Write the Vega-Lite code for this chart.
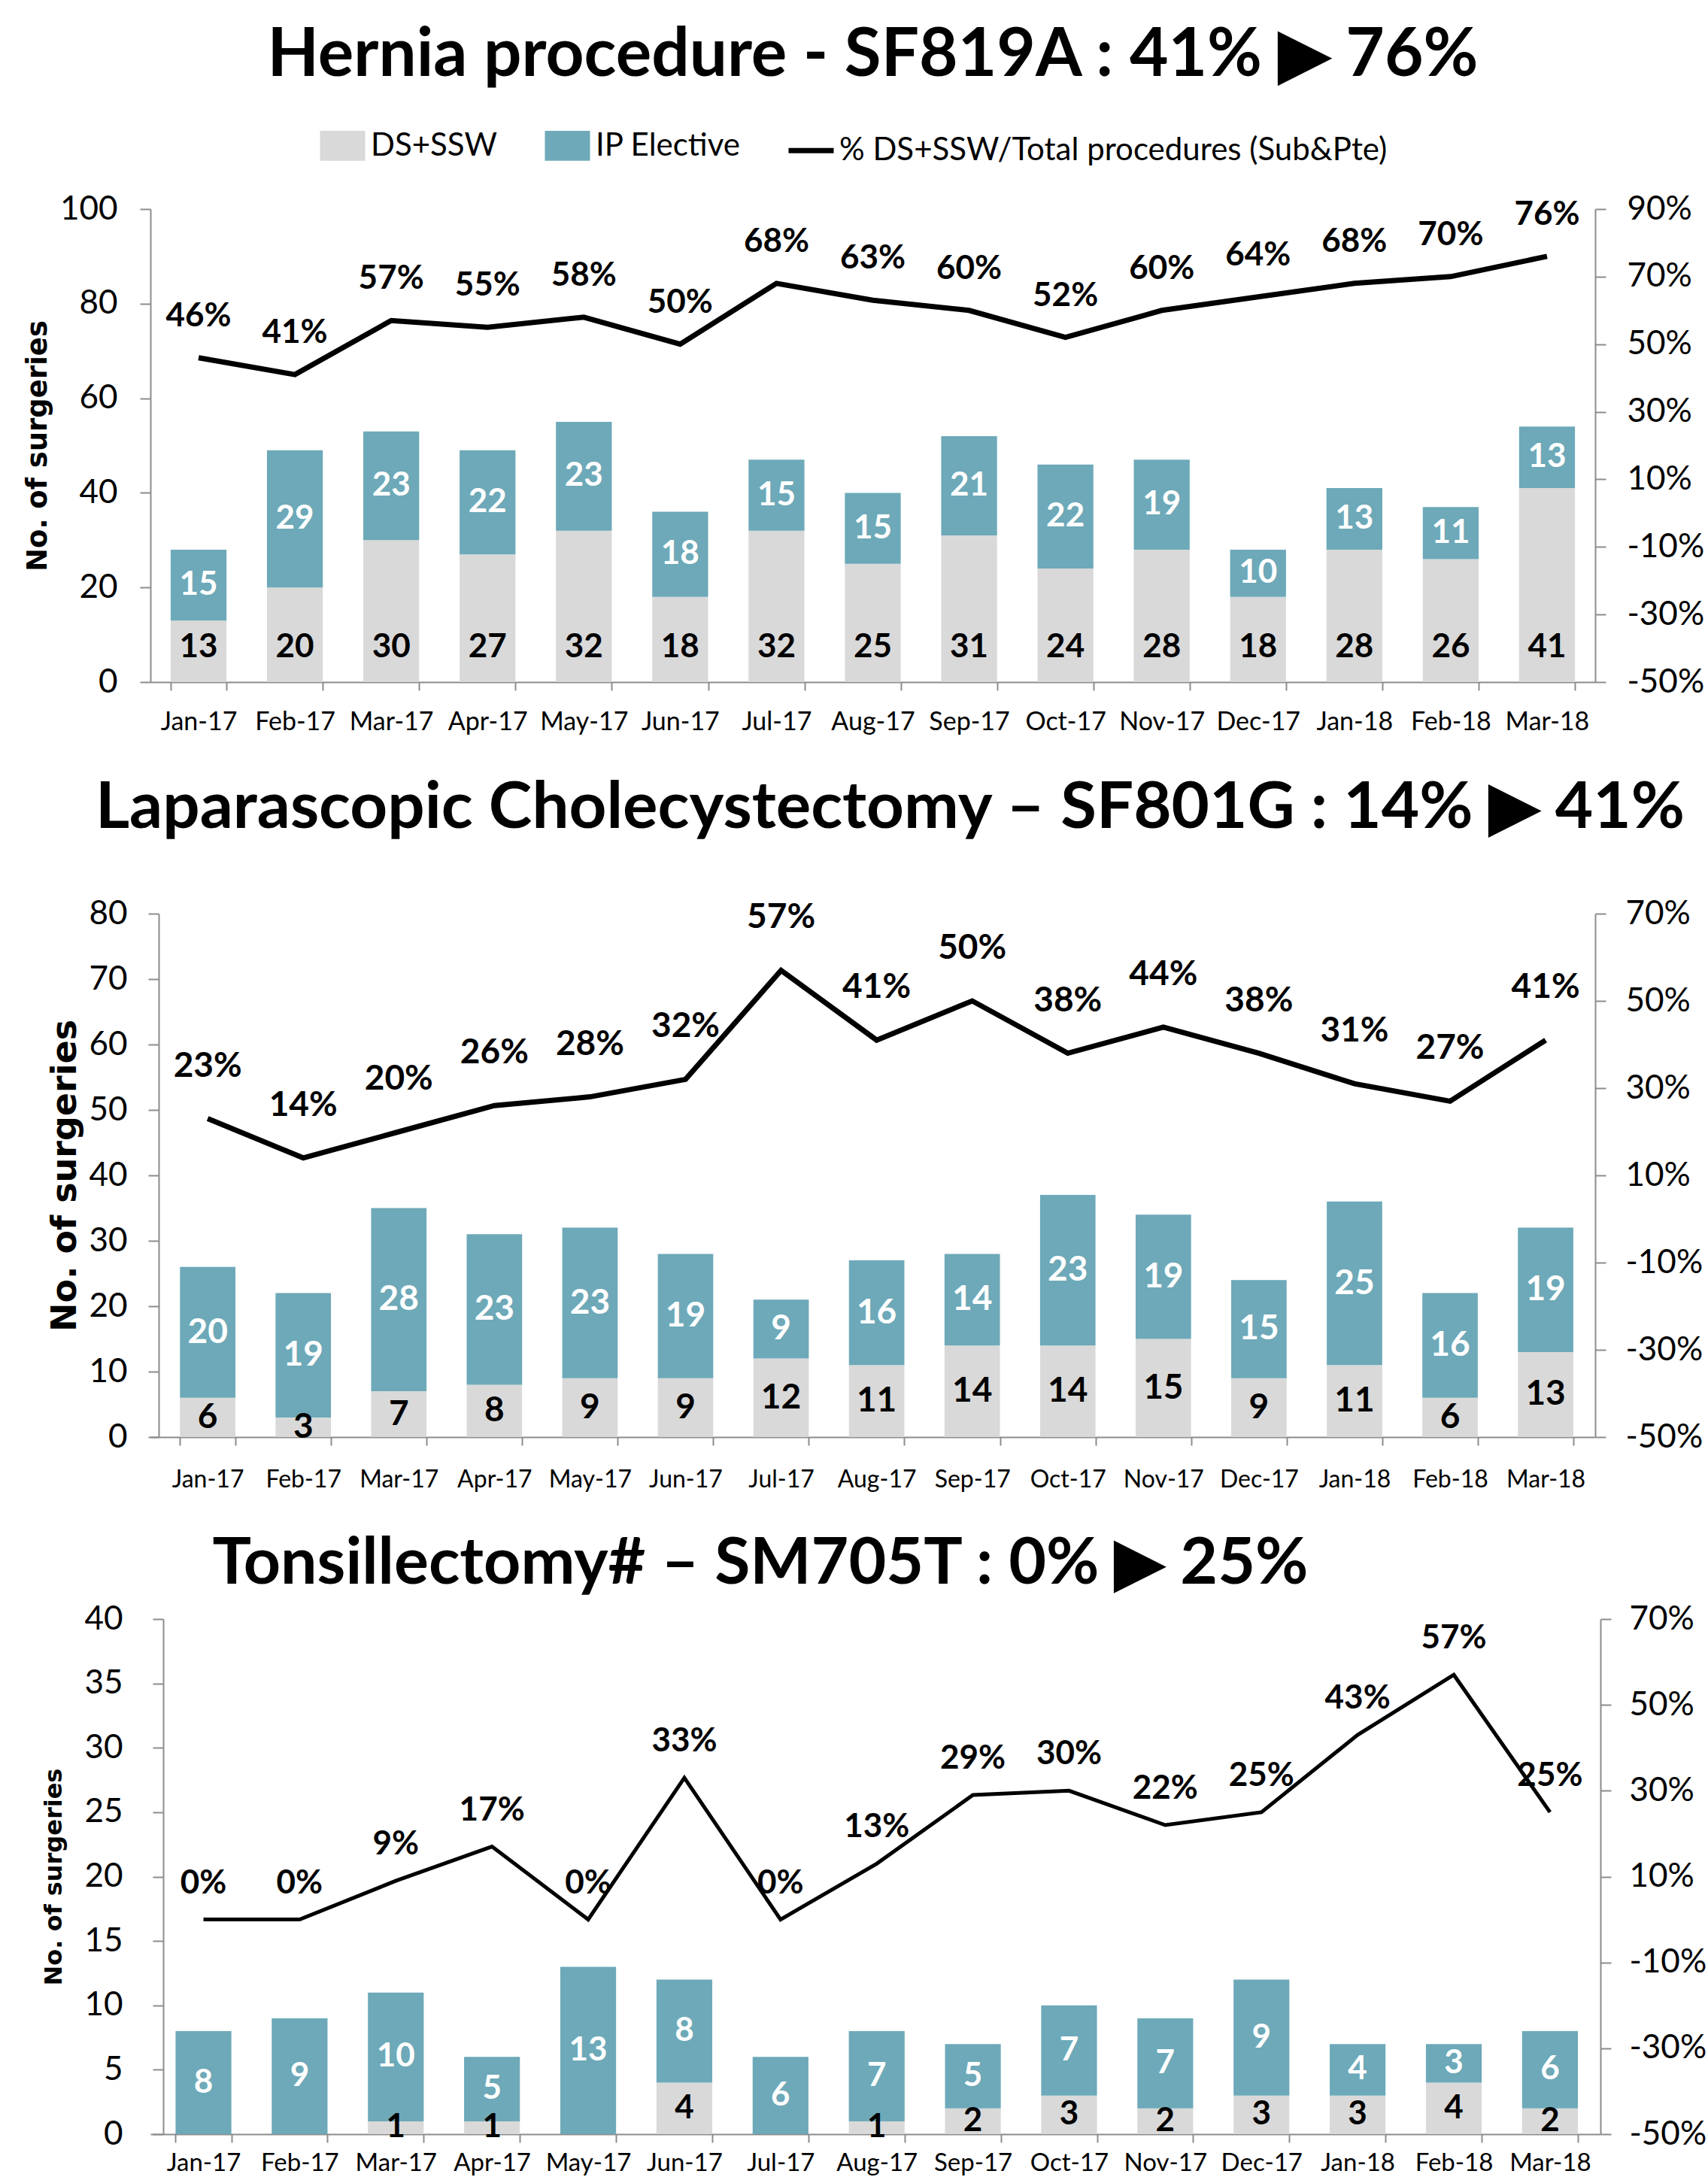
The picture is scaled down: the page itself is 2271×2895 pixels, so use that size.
{
  "$schema": "https://vega.github.io/schema/vega-lite/v6.json",
  "background": "white",
  "padding": {"left": 31, "top": 30, "right": 0, "bottom": 0},
  "config": {
    "view": {"stroke": null},
    "font": "Lato",
    "axis": {"grid": false, "domainColor": "#8c8c8c", "tickColor": "#8c8c8c", "domainWidth": 2, "tickWidth": 2, "labelColor": "black", "labelFont": "Lato", "titleColor": "black"},
    "concat": {"spacing": 54},
    "title": {"font": "Lato", "fontWeight": "bold", "fontSize": 89, "color": "black", "anchor": "middle"}
  },
  "datasets": {
    "hb": [
      {"month": "Jan-17", "series": "DS+SSW", "n": 13}, {"month": "Jan-17", "series": "IP Elective", "n": 15},
      {"month": "Feb-17", "series": "DS+SSW", "n": 20}, {"month": "Feb-17", "series": "IP Elective", "n": 29},
      {"month": "Mar-17", "series": "DS+SSW", "n": 30}, {"month": "Mar-17", "series": "IP Elective", "n": 23},
      {"month": "Apr-17", "series": "DS+SSW", "n": 27}, {"month": "Apr-17", "series": "IP Elective", "n": 22},
      {"month": "May-17", "series": "DS+SSW", "n": 32}, {"month": "May-17", "series": "IP Elective", "n": 23},
      {"month": "Jun-17", "series": "DS+SSW", "n": 18}, {"month": "Jun-17", "series": "IP Elective", "n": 18},
      {"month": "Jul-17", "series": "DS+SSW", "n": 32}, {"month": "Jul-17", "series": "IP Elective", "n": 15},
      {"month": "Aug-17", "series": "DS+SSW", "n": 25}, {"month": "Aug-17", "series": "IP Elective", "n": 15},
      {"month": "Sep-17", "series": "DS+SSW", "n": 31}, {"month": "Sep-17", "series": "IP Elective", "n": 21},
      {"month": "Oct-17", "series": "DS+SSW", "n": 24}, {"month": "Oct-17", "series": "IP Elective", "n": 22},
      {"month": "Nov-17", "series": "DS+SSW", "n": 28}, {"month": "Nov-17", "series": "IP Elective", "n": 19},
      {"month": "Dec-17", "series": "DS+SSW", "n": 18}, {"month": "Dec-17", "series": "IP Elective", "n": 10},
      {"month": "Jan-18", "series": "DS+SSW", "n": 28}, {"month": "Jan-18", "series": "IP Elective", "n": 13},
      {"month": "Feb-18", "series": "DS+SSW", "n": 26}, {"month": "Feb-18", "series": "IP Elective", "n": 11},
      {"month": "Mar-18", "series": "DS+SSW", "n": 41}, {"month": "Mar-18", "series": "IP Elective", "n": 13}
    ],
    "hp": [
      {"month": "Jan-17", "pct": 0.46}, {"month": "Feb-17", "pct": 0.41}, {"month": "Mar-17", "pct": 0.57},
      {"month": "Apr-17", "pct": 0.55}, {"month": "May-17", "pct": 0.58}, {"month": "Jun-17", "pct": 0.50},
      {"month": "Jul-17", "pct": 0.68}, {"month": "Aug-17", "pct": 0.63}, {"month": "Sep-17", "pct": 0.60},
      {"month": "Oct-17", "pct": 0.52}, {"month": "Nov-17", "pct": 0.60}, {"month": "Dec-17", "pct": 0.64},
      {"month": "Jan-18", "pct": 0.68}, {"month": "Feb-18", "pct": 0.70}, {"month": "Mar-18", "pct": 0.76}
    ],
    "lb": [
      {"month": "Jan-17", "series": "DS+SSW", "n": 6}, {"month": "Jan-17", "series": "IP Elective", "n": 20},
      {"month": "Feb-17", "series": "DS+SSW", "n": 3}, {"month": "Feb-17", "series": "IP Elective", "n": 19},
      {"month": "Mar-17", "series": "DS+SSW", "n": 7}, {"month": "Mar-17", "series": "IP Elective", "n": 28},
      {"month": "Apr-17", "series": "DS+SSW", "n": 8}, {"month": "Apr-17", "series": "IP Elective", "n": 23},
      {"month": "May-17", "series": "DS+SSW", "n": 9}, {"month": "May-17", "series": "IP Elective", "n": 23},
      {"month": "Jun-17", "series": "DS+SSW", "n": 9}, {"month": "Jun-17", "series": "IP Elective", "n": 19},
      {"month": "Jul-17", "series": "DS+SSW", "n": 12}, {"month": "Jul-17", "series": "IP Elective", "n": 9},
      {"month": "Aug-17", "series": "DS+SSW", "n": 11}, {"month": "Aug-17", "series": "IP Elective", "n": 16},
      {"month": "Sep-17", "series": "DS+SSW", "n": 14}, {"month": "Sep-17", "series": "IP Elective", "n": 14},
      {"month": "Oct-17", "series": "DS+SSW", "n": 14}, {"month": "Oct-17", "series": "IP Elective", "n": 23},
      {"month": "Nov-17", "series": "DS+SSW", "n": 15}, {"month": "Nov-17", "series": "IP Elective", "n": 19},
      {"month": "Dec-17", "series": "DS+SSW", "n": 9}, {"month": "Dec-17", "series": "IP Elective", "n": 15},
      {"month": "Jan-18", "series": "DS+SSW", "n": 11}, {"month": "Jan-18", "series": "IP Elective", "n": 25},
      {"month": "Feb-18", "series": "DS+SSW", "n": 6}, {"month": "Feb-18", "series": "IP Elective", "n": 16},
      {"month": "Mar-18", "series": "DS+SSW", "n": 13}, {"month": "Mar-18", "series": "IP Elective", "n": 19}
    ],
    "lp": [
      {"month": "Jan-17", "pct": 0.23}, {"month": "Feb-17", "pct": 0.14}, {"month": "Mar-17", "pct": 0.20},
      {"month": "Apr-17", "pct": 0.26}, {"month": "May-17", "pct": 0.28}, {"month": "Jun-17", "pct": 0.32},
      {"month": "Jul-17", "pct": 0.57}, {"month": "Aug-17", "pct": 0.41}, {"month": "Sep-17", "pct": 0.50},
      {"month": "Oct-17", "pct": 0.38}, {"month": "Nov-17", "pct": 0.44}, {"month": "Dec-17", "pct": 0.38},
      {"month": "Jan-18", "pct": 0.31}, {"month": "Feb-18", "pct": 0.27}, {"month": "Mar-18", "pct": 0.41}
    ],
    "tb": [
      {"month": "Jan-17", "series": "DS+SSW", "n": 0}, {"month": "Jan-17", "series": "IP Elective", "n": 8},
      {"month": "Feb-17", "series": "DS+SSW", "n": 0}, {"month": "Feb-17", "series": "IP Elective", "n": 9},
      {"month": "Mar-17", "series": "DS+SSW", "n": 1}, {"month": "Mar-17", "series": "IP Elective", "n": 10},
      {"month": "Apr-17", "series": "DS+SSW", "n": 1}, {"month": "Apr-17", "series": "IP Elective", "n": 5},
      {"month": "May-17", "series": "DS+SSW", "n": 0}, {"month": "May-17", "series": "IP Elective", "n": 13},
      {"month": "Jun-17", "series": "DS+SSW", "n": 4}, {"month": "Jun-17", "series": "IP Elective", "n": 8},
      {"month": "Jul-17", "series": "DS+SSW", "n": 0}, {"month": "Jul-17", "series": "IP Elective", "n": 6},
      {"month": "Aug-17", "series": "DS+SSW", "n": 1}, {"month": "Aug-17", "series": "IP Elective", "n": 7},
      {"month": "Sep-17", "series": "DS+SSW", "n": 2}, {"month": "Sep-17", "series": "IP Elective", "n": 5},
      {"month": "Oct-17", "series": "DS+SSW", "n": 3}, {"month": "Oct-17", "series": "IP Elective", "n": 7},
      {"month": "Nov-17", "series": "DS+SSW", "n": 2}, {"month": "Nov-17", "series": "IP Elective", "n": 7},
      {"month": "Dec-17", "series": "DS+SSW", "n": 3}, {"month": "Dec-17", "series": "IP Elective", "n": 9},
      {"month": "Jan-18", "series": "DS+SSW", "n": 3}, {"month": "Jan-18", "series": "IP Elective", "n": 4},
      {"month": "Feb-18", "series": "DS+SSW", "n": 4}, {"month": "Feb-18", "series": "IP Elective", "n": 3},
      {"month": "Mar-18", "series": "DS+SSW", "n": 2}, {"month": "Mar-18", "series": "IP Elective", "n": 6}
    ],
    "tp": [
      {"month": "Jan-17", "pct": 0.0}, {"month": "Feb-17", "pct": 0.0}, {"month": "Mar-17", "pct": 0.09},
      {"month": "Apr-17", "pct": 0.17}, {"month": "May-17", "pct": 0.0}, {"month": "Jun-17", "pct": 0.33},
      {"month": "Jul-17", "pct": 0.0}, {"month": "Aug-17", "pct": 0.13}, {"month": "Sep-17", "pct": 0.29},
      {"month": "Oct-17", "pct": 0.30}, {"month": "Nov-17", "pct": 0.22}, {"month": "Dec-17", "pct": 0.25},
      {"month": "Jan-18", "pct": 0.43}, {"month": "Feb-18", "pct": 0.57}, {"month": "Mar-18", "pct": 0.25}
    ]
  },
  "resolve": {"scale": {"color": "independent"}, "legend": {"color": "independent"}},
  "vconcat": [
    {
      "title": {"text": "Hernia procedure - SF819A : 41% ▶ 76%", "offset": 40},
      "width": 1921, "height": 629,
      "resolve": {"scale": {"y": "independent"}},
      "layer": [
        {
          "data": {"name": "hb"},
          "layer": [
            {
              "mark": {"type": "bar"},
              "encoding": {
                "x": {"field": "month", "type": "nominal", "scale": {"domain": ["Jan-17","Feb-17","Mar-17","Apr-17","May-17","Jun-17","Jul-17","Aug-17","Sep-17","Oct-17","Nov-17","Dec-17","Jan-18","Feb-18","Mar-18"], "paddingInner": 0.42, "paddingOuter": 0.21},
                  "axis": {"title": null, "tickBand": "extent", "tickSize": 11, "labelFontSize": 34, "labelPadding": 25, "labelAngle": 0}},
                "y": {"field": "n", "type": "quantitative", "stack": "zero", "scale": {"domain": [0, 100]},
                  "axis": {"values": [0,20,40,60,80,100], "title": "No. of surgeries", "titleFont": "DejaVu Sans", "titleFontWeight": "bold", "titleFontSize": 37, "titlePadding": 10, "labelFontSize": 44, "tickSize": 14, "labelPadding": 30}},
                "color": {"field": "series", "type": "nominal",
                  "scale": {"domain": ["DS+SSW", "IP Elective", "% DS+SSW/Total procedures (Sub&Pte)"], "range": ["#D9D9D9", "#6DA9B8", "#000000"]},
                  "legend": {"orient": "none", "legendX": 222, "legendY": -118, "direction": "horizontal", "title": null,
                    "labelFontSize": 42, "labelFont": "Lato", "labelColor": "black", "labelLimit": 2000, "symbolSize": 3600, "labelOffset": 4, "columnPadding": 48,
                    "encode": {"symbols": {"update": {
                      "shape": {"signal": "datum.value === '% DS+SSW/Total procedures (Sub&Pte)' ? 'stroke' : 'M-1,-0.66H1V0.66H-1Z'"},
                      "fill": {"signal": "datum.value === 'DS+SSW' ? '#D9D9D9' : datum.value === 'IP Elective' ? '#6DA9B8' : 'transparent'"},
                      "stroke": {"signal": "datum.value === '% DS+SSW/Total procedures (Sub&Pte)' ? '#000000' : 'transparent'"},
                      "strokeWidth": {"value": 7}
                    }}}}},
                "order": {"field": "series"}
              }
            },
            {
              "transform": [
                {"stack": "n", "groupby": ["month"], "sort": [{"field": "series"}], "as": ["y0", "y1"]},
                {"fold": ["y0", "y1"], "as": ["edge", "v"]},
                {"aggregate": [{"op": "mean", "field": "v", "as": "mid"}], "groupby": ["month", "series", "n"]},
                {"filter": "datum.series === 'IP Elective'"}
              ],
              "mark": {"type": "text", "fontWeight": "bold", "fontSize": 44, "color": "white", "baseline": "middle"},
              "encoding": {
                "x": {"field": "month", "type": "nominal"},
                "y": {"field": "mid", "type": "quantitative"},
                "text": {"field": "n"}
              }
            },
            {
              "transform": [{"filter": "datum.series === 'DS+SSW'"}],
              "mark": {"type": "text", "fontWeight": "bold", "fontSize": 44, "color": "black", "baseline": "middle", "dy": -46},
              "encoding": {
                "x": {"field": "month", "type": "nominal"},
                "y": {"datum": 0, "type": "quantitative"},
                "text": {"field": "n"}
              }
            }
          ]
        },
        {
          "data": {"name": "hp"},
          "layer": [
            {
              "mark": {"type": "line", "color": "black", "strokeWidth": 7},
              "encoding": {
                "x": {"field": "month", "type": "nominal"},
                "y": {"field": "pct", "type": "quantitative", "scale": {"domain": [-0.5, 0.9]},
                  "axis": {"orient": "right", "values": [-0.5,-0.3,-0.1,0.1,0.3,0.5,0.7,0.9], "format": ".0%", "labelExpr": "replace(datum.label, '−', '-')", "title": null, "labelFontSize": 44, "tickSize": 14, "labelPadding": 28}}
              }
            },
            {
              "mark": {"type": "text", "fontWeight": "bold", "fontSize": 44, "color": "black", "baseline": "middle", "dy": -55},
              "encoding": {
                "x": {"field": "month", "type": "nominal"},
                "y": {"field": "pct", "type": "quantitative"},
                "text": {"field": "pct", "format": ".0%"}
              }
            }
          ]
        }
      ]
    },
    {
      "title": {"text": "Laparascopic Cholecystectomy – SF801G : 14% ▶ 41%", "offset": 74, "fontSize": 87, "dx": 23},
      "width": 1921, "height": 696,
      "resolve": {"scale": {"y": "independent"}},
      "layer": [
        {
          "data": {"name": "lb"},
          "layer": [
            {
              "mark": {"type": "bar"},
              "encoding": {
                "x": {"field": "month", "type": "nominal", "scale": {"domain": ["Jan-17","Feb-17","Mar-17","Apr-17","May-17","Jun-17","Jul-17","Aug-17","Sep-17","Oct-17","Nov-17","Dec-17","Jan-18","Feb-18","Mar-18"], "paddingInner": 0.42, "paddingOuter": 0.269, "align": 0.575},
                  "axis": {"title": null, "tickBand": "extent", "tickSize": 11, "labelFontSize": 32, "labelPadding": 30, "labelAngle": 0}},
                "y": {"field": "n", "type": "quantitative", "stack": "zero", "scale": {"domain": [0, 80]},
                  "axis": {"offset": -11, "values": [0,10,20,30,40,50,60,70,80], "title": "No. of surgeries", "titleFont": "DejaVu Sans", "titleFontWeight": "bold", "titleFontSize": 46, "titlePadding": 7, "labelFontSize": 44, "tickSize": 14, "labelPadding": 28}},
                "color": {"field": "series", "type": "nominal",
                  "scale": {"domain": ["DS+SSW", "IP Elective"], "range": ["#D9D9D9", "#6DA9B8"]}, "legend": null},
                "order": {"field": "series"}
              }
            },
            {
              "transform": [
                {"stack": "n", "groupby": ["month"], "sort": [{"field": "series"}], "as": ["y0", "y1"]},
                {"fold": ["y0", "y1"], "as": ["edge", "v"]},
                {"aggregate": [{"op": "mean", "field": "v", "as": "mid"}], "groupby": ["month", "series", "n"]},
                {"filter": "datum.n > 0"}
              ],
              "mark": {"type": "text", "fontWeight": "bold", "fontSize": 46, "baseline": "middle"},
              "encoding": {
                "x": {"field": "month", "type": "nominal"},
                "y": {"field": "mid", "type": "quantitative"},
                "text": {"field": "n"},
                "color": {"condition": {"test": "datum.series === 'IP Elective'", "value": "white"}, "value": "black"}
              }
            }
          ]
        },
        {
          "data": {"name": "lp"},
          "layer": [
            {
              "mark": {"type": "line", "color": "black", "strokeWidth": 7},
              "encoding": {
                "x": {"field": "month", "type": "nominal"},
                "y": {"field": "pct", "type": "quantitative", "scale": {"domain": [-0.5, 0.7]},
                  "axis": {"orient": "right", "values": [-0.5,-0.3,-0.1,0.1,0.3,0.5,0.7], "format": ".0%", "labelExpr": "replace(datum.label, '−', '-')", "title": null, "labelFontSize": 44, "tickSize": 14, "labelPadding": 26}}
              }
            },
            {
              "mark": {"type": "text", "fontWeight": "bold", "fontSize": 46, "color": "black", "baseline": "middle", "dy": -70},
              "encoding": {
                "x": {"field": "month", "type": "nominal"},
                "y": {"field": "pct", "type": "quantitative"},
                "text": {"field": "pct", "format": ".0%"}
              }
            }
          ]
        }
      ]
    },
    {
      "title": {"text": "Tonsillectomy# – SM705T : 0% ▶ 25%", "offset": 7, "dx": -153, "fontSize": 86},
      "width": 1928, "height": 685,
      "resolve": {"scale": {"y": "independent"}},
      "layer": [
        {
          "data": {"name": "tb"},
          "layer": [
            {
              "mark": {"type": "bar"},
              "encoding": {
                "x": {"field": "month", "type": "nominal", "scale": {"domain": ["Jan-17","Feb-17","Mar-17","Apr-17","May-17","Jun-17","Jul-17","Aug-17","Sep-17","Oct-17","Nov-17","Dec-17","Jan-18","Feb-18","Mar-18"], "paddingInner": 0.42, "paddingOuter": 0.248, "align": 0.527},
                  "axis": {"title": null, "tickBand": "extent", "tickSize": 11, "labelFontSize": 33, "labelPadding": 11, "labelAngle": 0}},
                "y": {"field": "n", "type": "quantitative", "stack": "zero", "scale": {"domain": [0, 40]},
                  "axis": {"offset": -17, "values": [0,5,10,15,20,25,30,35,40], "title": "No. of surgeries", "titleFont": "DejaVu Sans", "titleFontWeight": "bold", "titleFontSize": 32, "titlePadding": 23, "labelFontSize": 44, "tickSize": 14, "labelPadding": 40}},
                "color": {"field": "series", "type": "nominal",
                  "scale": {"domain": ["DS+SSW", "IP Elective"], "range": ["#D9D9D9", "#6DA9B8"]}, "legend": null},
                "order": {"field": "series"}
              }
            },
            {
              "transform": [
                {"stack": "n", "groupby": ["month"], "sort": [{"field": "series"}], "as": ["y0", "y1"]},
                {"fold": ["y0", "y1"], "as": ["edge", "v"]},
                {"aggregate": [{"op": "mean", "field": "v", "as": "mid"}], "groupby": ["month", "series", "n"]},
                {"filter": "datum.n > 0"}
              ],
              "mark": {"type": "text", "fontWeight": "bold", "fontSize": 44, "baseline": "middle"},
              "encoding": {
                "x": {"field": "month", "type": "nominal"},
                "y": {"field": "mid", "type": "quantitative"},
                "text": {"field": "n"},
                "color": {"condition": {"test": "datum.series === 'IP Elective'", "value": "white"}, "value": "black"}
              }
            }
          ]
        },
        {
          "data": {"name": "tp"},
          "layer": [
            {
              "mark": {"type": "line", "color": "black", "strokeWidth": 5},
              "encoding": {
                "x": {"field": "month", "type": "nominal"},
                "y": {"field": "pct", "type": "quantitative", "scale": {"domain": [-0.5, 0.7]},
                  "axis": {"orient": "right", "values": [-0.5,-0.3,-0.1,0.1,0.3,0.5,0.7], "format": ".0%", "labelExpr": "replace(datum.label, '−', '-')", "title": null, "labelFontSize": 44, "tickSize": 14, "labelPadding": 24}}
              }
            },
            {
              "mark": {"type": "text", "fontWeight": "bold", "fontSize": 44, "color": "black", "baseline": "middle", "dy": -48},
              "encoding": {
                "x": {"field": "month", "type": "nominal"},
                "y": {"field": "pct", "type": "quantitative"},
                "text": {"field": "pct", "format": ".0%"}
              }
            }
          ]
        }
      ]
    }
  ]
}
